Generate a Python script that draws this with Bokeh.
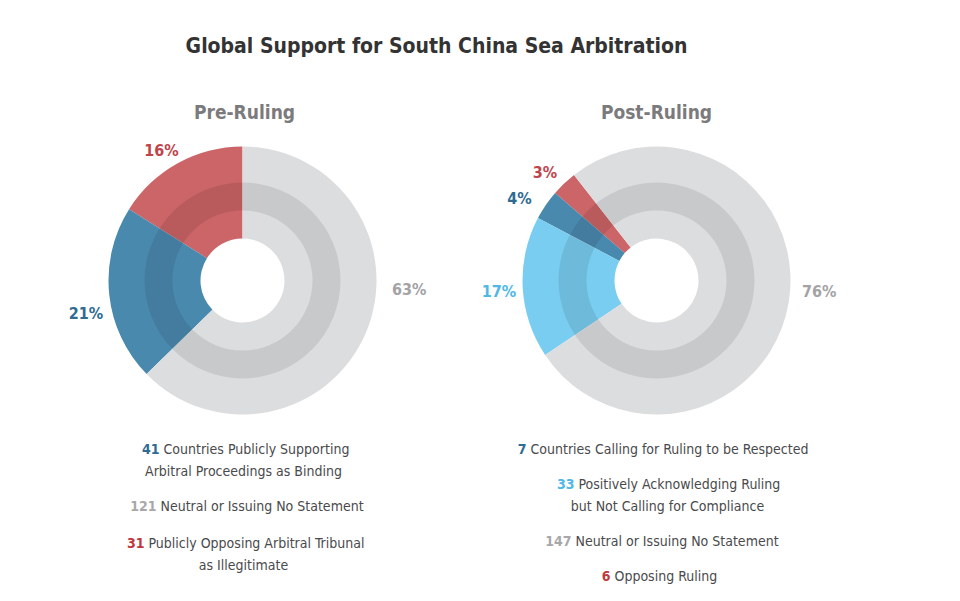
import math
from bokeh.plotting import figure
from bokeh.models import Range1d
from bokeh.core.properties import value
from bokeh.embed import file_html
from bokeh.resources import INLINE

# ---------------- data ----------------
title_text = "Global Support for South China Sea Arbitration"
pre_title = "Pre-Ruling"
post_title = "Post-Ruling"

pre_categories = ["Publicly Opposing", "Publicly Supporting", "Neutral"]
pre_counts = [31, 41, 121]
pre_pct_labels = ["16%", "21%", "63%"]

post_categories = ["Opposing", "Calling for Respect", "Positively Acknowledging", "Neutral"]
post_counts = [6, 7, 33, 147]
post_pct_labels = ["3%", "4%", "17%", "76%"]

pre_legend_numbers = ["41", "121", "31"]
pre_legend_texts = [["Countries Publicly Supporting", "Arbitral Proceedings as Binding"],
                    ["Neutral or Issuing No Statement"],
                    ["Publicly Opposing Arbitral Tribunal", "as Illegitimate"]]
post_legend_numbers = ["7", "33", "147", "6"]
post_legend_texts = [["Countries Calling for Ruling to be Respected"],
                     ["Positively Acknowledging Ruling", "but Not Calling for Compliance"],
                     ["Neutral or Issuing No Statement"],
                     ["Opposing Ruling"]]

# ---------------- styles ----------------
RED = "#cc6567"
BLUE = "#4a89ae"
LBLUE = "#79cdf0"
GRAY = "#dcdddf"
pre_colors = [RED, BLUE, GRAY]
post_colors = [RED, BLUE, LBLUE, GRAY]
pre_text_colors = ["#c0454b", "#2f6b92", "#a3a3a6"]
post_text_colors = ["#c0454b", "#2f6b92", "#4fb8e6", "#a3a3a6"]
pre_leg_num_colors = ["#2f6b92", "#a8a8aa", "#c0393f"]
post_leg_num_colors = ["#2f6b92", "#4fb8e6", "#a8a8aa", "#c0393f"]

FONT = "DejaVu Sans Condensed"
W, H = 944, 585
PAGE_H = 601


def Y(py):
    return PAGE_H - py


p = figure(width=W, height=H, output_backend="svg", toolbar_location=None,
           x_range=Range1d(0, W), y_range=Range1d(Y(H), Y(0)),
           min_border=0, outline_line_color=None, background_fill_color="white")
p.axis.visible = False
p.grid.visible = False

R_HOLE, R_BAND_IN, R_BAND_OUT, R_OUT = 42, 70, 98, 134


def donut(cx, cy, counts, colors, start_deg, pct_labels, pct_colors, label_pos):
    total = float(sum(counts))
    a = math.radians(start_deg)
    starts, ends = [], []
    for c in counts:
        starts.append(a)
        a += 2 * math.pi * c / total
        ends.append(a)
    n = len(counts)
    p.annular_wedge(x=[cx] * n, y=[Y(cy)] * n, inner_radius=R_HOLE, outer_radius=R_OUT,
                    start_angle=starts, end_angle=ends, fill_color=colors,
                    line_color=None)
    # darker concentric band
    p.annulus(x=[cx], y=[Y(cy)], inner_radius=R_BAND_IN, outer_radius=R_BAND_OUT,
              fill_color="black", fill_alpha=0.09, line_color=None)
    xs = [cx + r * math.cos(math.radians(d)) for d, r in label_pos]
    ys = [Y(cy) + r * math.sin(math.radians(d)) for d, r in label_pos]
    p.text(x=xs, y=ys, text=pct_labels, text_color=pct_colors,
           text_font=value(FONT), text_font_size="16px", text_font_style="bold",
           text_align="center", text_baseline="middle")


donut(242, 280, pre_counts, pre_colors, 90, pre_pct_labels, pre_text_colors,
      [(122, 153), (192, 160), (-3, 167)])
donut(656, 280, post_counts, post_colors, 128, post_pct_labels, post_text_colors,
      [(136, 155), (149, 160), (184, 158), (-4, 163)])

# titles
p.text(x=[436], y=[Y(45)], text=[title_text], text_color="#333333",
       text_font=value(FONT), text_font_size="21px", text_font_style="bold",
       text_align="center", text_baseline="middle")
p.text(x=[244, 656], y=[Y(111), Y(111)], text=[pre_title, post_title],
       text_color="#7b7b7d", text_font=value(FONT), text_font_size="19px",
       text_font_style="bold", text_align="center", text_baseline="middle")


def legend(numbers, texts, num_colors, split_xs, ys, center_x):
    for num, lines, col, sx, ly in zip(numbers, texts, num_colors, split_xs, ys):
        p.text(x=[sx], y=[Y(ly[0])], text=[num], text_color=col,
               text_font=value(FONT), text_font_size="14px", text_font_style="bold",
               text_align="right", text_baseline="middle")
        p.text(x=[sx + 4], y=[Y(ly[0])], text=[lines[0]], text_color="#4a4a4c",
               text_font=value(FONT), text_font_size="14px",
               text_align="left", text_baseline="middle")
        for line, yy in zip(lines[1:], ly[1:]):
            p.text(x=[center_x], y=[Y(yy)], text=[line], text_color="#4a4a4c",
                   text_font=value(FONT), text_font_size="14px",
                   text_align="center", text_baseline="middle")


legend(pre_legend_numbers, pre_legend_texts, pre_leg_num_colors,
       [159, 156, 144], [[448, 470], [505], [542, 564]], 243)
legend(post_legend_numbers, post_legend_texts, post_leg_num_colors,
       [526, 574, 571, 610], [[448], [483, 505], [540], [575]], 667)

open("out.html", "w").write(file_html(p, INLINE))
